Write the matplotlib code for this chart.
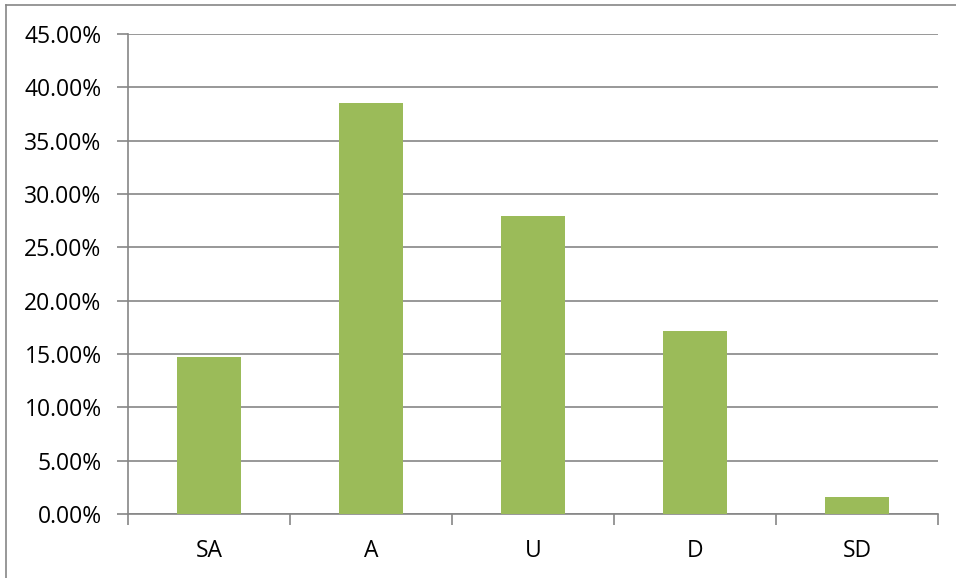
import matplotlib
matplotlib.use("Agg")
import matplotlib.pyplot as plt
from matplotlib.lines import Line2D
from matplotlib.ticker import FuncFormatter, MultipleLocator

categories = ["SA", "A", "U", "D", "SD"]
values = [14.7, 38.5, 27.9, 17.2, 1.6]

W, H = 956, 578
fig = plt.figure(figsize=(W / 100, H / 100), dpi=100)
ax = fig.add_axes([128 / W, 1 - 514 / H, (938 - 128) / W, (514 - 34) / H])

grid_c = "#868686"
x = list(range(len(categories)))
ax.bar(x, values, width=0.4, color="#9BBB59", zorder=3)

ax.set_xlim(-0.5, len(categories) - 0.5)
ax.set_ylim(0, 45)
ax.yaxis.set_major_locator(MultipleLocator(5))
ax.yaxis.set_major_formatter(FuncFormatter(lambda v, p: f"{v:.2f}%"))
ax.grid(axis="y", color=grid_c, linewidth=1.2, zorder=0)

ax.set_xticks(x)
ax.set_xticklabels(categories)
# category boundary ticks
ax.set_xticks([i - 0.5 for i in range(len(categories) + 1)], minor=True)
ax.tick_params(axis="x", which="major", length=0, pad=18)
ax.tick_params(axis="x", which="minor", length=8, width=1.2, color=grid_c, direction="out")
ax.tick_params(axis="y", length=8, width=1.2, color=grid_c, direction="out", pad=11)

for lbl in ax.get_xticklabels() + ax.get_yticklabels():
    lbl.set_fontfamily("Open Sans")
    lbl.set_fontsize(16.5)
    lbl.set_color("#000000")

for s in ["top", "right"]:
    ax.spines[s].set_visible(False)
for s in ["left", "bottom"]:
    ax.spines[s].set_color(grid_c)
    ax.spines[s].set_linewidth(1.2)

# chart frame along the top and left edges
fig.add_artist(Line2D([6 / W, 6 / W], [0, 1 - 5 / H], transform=fig.transFigure,
                      color=grid_c, linewidth=1.2))
fig.add_artist(Line2D([6 / W, 1], [1 - 5 / H, 1 - 5 / H], transform=fig.transFigure,
                      color=grid_c, linewidth=1.2))

fig.savefig("out.png", dpi=100)
